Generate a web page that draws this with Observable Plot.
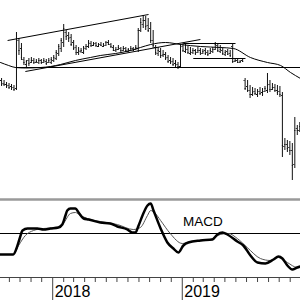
<!DOCTYPE html>
<html><head><meta charset="utf-8">
<script src="https://cdn.jsdelivr.net/npm/d3@7"></script>
<script src="https://cdn.jsdelivr.net/npm/@observablehq/plot@0.6"></script>
<style>
html,body{margin:0;padding:0;background:#fff;}
#chart{width:300px;height:300px;overflow:hidden;}
#chart svg{display:block;}
</style></head>
<body><div id="chart"></div>
<script>
// weekly bars starting date
const firstBar = "2017-08-10";
const highs = [12.2,12.0,11.8,11.7,11.6,11.5,16.8,16.2,15.7,14.3,14.0,14.2,14.3,14.2,14.1,14.2,14.1,14.2,14.1,14.2,
14.3,14.5,15.0,15.6,16.2,17.6,17.0,16.8,16.6,16.0,15.5,15.3,15.2,15.4,15.6,16.0,15.9,15.8,15.8,15.7,
15.8,15.7,15.9,16.0,15.7,15.5,15.3,15.5,15.3,15.4,15.3,15.2,15.4,15.3,15.5,17.2,18.2,18.5,18.4,18.2,
17.8,17.0,15.5,15.3,15.2,15.0,14.8,14.5,14.3,14.2,14.0,13.8,15.6,15.7,15.6,15.4,15.3,15.2,15.1,15.3,
15.2,15.1,15.2,15.0,15.2,15.3,15.8,15.7,15.5,15.2,15.0,15.1,15.0,15.7,14.2,14.1,14.0,14.1,12.2,12.0,
11.5,11.3,11.2,11.1,11.3,11.2,11.4,12.7,12.0,11.7,11.6,11.5,11.4,10.8,6.2,6.0,5.9,5.7,8.3,7.5,7.8];
const lows = [11.4,11.4,11.2,11.1,11.0,10.9,11.0,14.5,14.0,13.5,13.2,13.4,13.7,13.6,13.7,13.6,13.6,13.7,13.5,13.7,
13.6,13.8,14.0,14.4,14.8,15.3,16.0,15.8,15.4,15.0,14.5,14.5,14.7,14.6,15.0,15.2,15.3,15.4,15.3,15.3,
15.4,15.3,15.4,15.5,15.2,14.9,14.8,15.0,14.8,14.9,14.8,14.8,14.9,14.9,15.0,14.8,16.8,17.2,17.0,16.8,
15.7,15.2,14.5,14.4,14.2,14.3,14.0,13.7,13.6,13.4,13.3,13.1,13.3,14.8,14.7,14.6,14.5,14.6,14.5,14.7,
14.5,14.6,14.5,14.4,14.6,14.7,15.0,14.8,14.7,14.5,14.4,14.5,14.3,13.7,13.8,13.7,13.7,13.8,11.0,10.8,
10.2,10.4,10.5,10.3,10.5,10.4,10.8,10.7,10.8,11.0,10.8,10.5,10.3,4.3,5.0,4.8,4.5,2.0,3.2,6.5,6.8];
const opens = [12.0,11.7,11.6,11.5,11.4,11.3,11.2,16.0,15.2,14.1,13.6,14.0,13.8,14.0,13.8,13.8,14.0,13.8,13.9,13.8,
13.8,14.0,14.2,14.7,15.2,15.8,16.8,16.5,16.3,15.8,15.3,14.8,14.9,14.8,15.2,15.4,15.7,15.5,15.7,15.4,
15.6,15.4,15.5,15.8,15.6,15.3,15.0,15.1,15.2,15.0,15.2,14.9,15.0,15.2,15.1,15.2,17.0,17.6,18.0,17.5,
17.2,16.0,15.3,14.7,14.9,14.5,14.6,14.3,14.0,13.9,13.7,13.6,13.4,15.4,14.9,15.1,14.7,14.8,15.0,14.8,
15.0,14.7,15.0,14.8,14.7,14.9,15.1,15.5,14.9,15.0,14.6,14.9,14.7,15.4,13.9,14.0,13.8,14.0,12.0,11.4,
11.0,10.6,10.9,10.6,10.9,10.8,10.9,11.0,11.6,11.1,11.3,11.0,10.9,10.5,5.4,5.6,5.3,5.0,3.6,7.2,7.0];
const closes = [11.6,11.6,11.4,11.3,11.2,11.1,16.2,15.0,14.3,13.8,13.9,13.7,14.0,13.8,13.9,14.0,13.8,14.0,13.7,14.0,
14.1,14.3,14.8,15.4,16.0,17.2,16.4,16.2,15.6,15.2,14.8,15.0,15.0,15.3,15.4,15.8,15.5,15.6,15.5,15.6,
15.5,15.6,15.8,15.6,15.4,15.0,15.1,15.3,15.0,15.2,15.0,15.1,15.2,15.0,15.3,17.0,17.8,18.0,17.4,17.0,
16.0,15.5,14.8,15.0,14.5,14.6,14.2,13.9,13.8,13.6,13.5,13.4,15.3,15.0,15.2,14.8,14.9,15.0,14.7,15.0,
14.8,14.9,14.7,14.6,15.0,15.1,15.6,15.0,15.1,14.7,14.8,14.6,14.5,13.9,14.0,13.8,13.9,13.9,11.2,11.0,
10.6,10.8,10.7,10.9,10.7,10.6,11.2,11.5,11.1,11.3,11.0,10.8,10.6,5.5,5.6,5.2,5.0,3.5,7.0,7.0,7.4];

// moving average
const maDates = ["2017-08-07","2017-08-30","2017-09-18","2017-10-16","2017-11-28","2017-12-26","2018-01-23","2018-03-06",
"2018-04-17","2018-05-15","2018-06-27","2018-08-08","2018-09-05","2018-10-04","2018-11-15","2018-12-27","2019-02-21",
"2019-04-18","2019-05-25","2019-07-12","2019-08-29","2019-10-05","2019-11-02","2019-11-30"];
const maValues = [13.8,13.5,13.3,13.25,13.3,13.4,13.6,14.0,14.3,14.5,14.7,15.0,15.3,15.6,15.8,15.6,15.4,15.3,15.2,14.3,13.8,13.5,12.8,12.2];

// drawn trend lines
const lineStartDates = ["2017-08-27","2017-10-16","2017-09-18","2019-01-04","2019-02-01"];
const lineStartValues = [16.0,12.9,13.3,15.7,14.2];
const lineEndDates = ["2018-09-28","2019-02-21","2019-11-30","2019-05-31","2019-06-28"];
const lineEndValues = [18.6,16.1,13.3,15.7,14.2];

// MACD
const macdDates = ["2017-08-07","2017-09-12","2017-09-21","2017-09-30","2017-10-08","2017-10-22","2017-11-19","2017-12-06",
"2017-12-26","2018-01-17","2018-01-28","2018-02-06","2018-02-11","2018-02-20","2018-03-06","2018-03-15","2018-03-29",
"2018-04-12","2018-05-15","2018-06-12","2018-07-02","2018-07-30","2018-08-13","2018-08-22","2018-08-31","2018-09-11",
"2018-09-25","2018-10-04","2018-10-12","2018-11-01","2018-11-20","2018-12-07","2018-12-21","2019-01-04","2019-01-18",
"2019-02-21","2019-03-27","2019-04-10","2019-04-24","2019-05-08","2019-06-05","2019-06-22","2019-07-12","2019-08-01",
"2019-08-23","2019-09-15","2019-09-29","2019-10-10","2019-10-24","2019-11-07","2019-11-21","2019-11-30"];
const macdValues = [-2.1,-2.1,-1.5,-0.5,0.3,0.5,0.5,0.4,0.5,0.6,0.9,1.8,2.3,2.5,2.5,2.1,1.5,1.4,1.1,1.0,0.7,0.4,0.1,0.1,
0.8,1.8,2.8,3.0,2.3,0.5,-0.9,-1.5,-1.9,-1.2,-0.9,-0.7,-0.6,-0.1,0.1,-0.1,-0.8,-1.2,-2.2,-2.9,-3.0,-2.6,-2.3,-2.5,-3.2,-3.6,-3.4,-3.3];
const signalDates = ["2017-08-07","2017-09-12","2017-09-27","2017-10-16","2017-11-08","2017-12-06","2018-01-17","2018-01-31",
"2018-02-20","2018-03-06","2018-03-20","2018-04-09","2018-05-15","2018-07-02","2018-08-16","2018-09-05","2018-09-25",
"2018-10-04","2018-10-17","2018-11-01","2018-11-28","2019-01-01","2019-02-01","2019-03-22","2019-04-18","2019-05-11",
"2019-06-05","2019-07-03","2019-08-09","2019-09-06","2019-09-29","2019-10-24","2019-11-21","2019-11-30"];
const signalValues = [-2.1,-2.1,-1.2,-0.2,0.3,0.5,0.6,1.0,2.0,2.1,1.8,1.5,1.2,0.9,0.4,0.6,1.8,2.3,2.0,1.3,0.0,-1.0,-0.8,
-0.6,-0.1,0.0,-0.5,-1.4,-2.5,-2.7,-2.4,-2.9,-3.4,-3.3];

const yearLabels = ["2018","2019"];
const macdLabel = "MACD";
const macdLabelDate = "2019-01-03";

const D = s => new Date(s);
const xDomain = [D("2017-08-07"), D("2019-11-30")];

const bars = highs.map((h, i) => ({
  date: d3.utcDay.offset(D(firstBar), 7 * i), high: h, low: lows[i], open: opens[i], close: closes[i]
}));
const ma = maDates.map((d, i) => ({date: D(d), v: maValues[i]}));
const tlines = lineStartDates.map((d, i) => ({x1: D(d), y1: lineStartValues[i], x2: D(lineEndDates[i]), y2: lineEndValues[i]}));
const macd = macdDates.map((d, i) => ({date: D(d), v: macdValues[i]}));
const signal = signalDates.map((d, i) => ({date: D(d), v: signalValues[i]}));
const years = yearLabels.map(y => ({date: D(y + "-01-01"), label: y}));
const months = d3.utcMonth.range(xDomain[0], xDomain[1]).filter(d => d.getUTCMonth() !== 0);

const price = Plot.plot({
  width: 300, height: 198, margin: 0,
  x: {type: "utc", domain: xDomain, axis: null},
  y: {domain: [0.2, 20], axis: null},
  marks: [
    Plot.ruleX(bars, {x: "date", y1: "low", y2: "high", stroke: "#111", strokeWidth: 1}),
    Plot.ruleY(bars, {x1: d => d3.utcDay.offset(d.date, -3), x2: "date", y: "open", stroke: "#111"}),
    Plot.ruleY(bars, {x1: "date", x2: d => d3.utcDay.offset(d.date, 3), y: "close", stroke: "#111"}),
    Plot.line(ma, {x: "date", y: "v", curve: "monotone-x", stroke: "#000", strokeWidth: 1}),
    Plot.link(tlines, {x1: "x1", y1: "y1", x2: "x2", y2: "y2", stroke: "#000", strokeWidth: 1})
  ]
});

const macdPlot = Plot.plot({
  width: 300, height: 102, margin: 0,
  x: {type: "utc", domain: xDomain, axis: null},
  y: {domain: [-6.7, 3.5], axis: null},
  style: {fontFamily: "'Liberation Sans', Arial, sans-serif"},
  marks: [
    Plot.ruleY([3.4], {stroke: "#9a9a9a", strokeWidth: 2.5}),
    Plot.ruleY([0], {stroke: "#000", strokeWidth: 1}),
    Plot.line(signal, {x: "date", y: "v", curve: "monotone-x", stroke: "#555", strokeWidth: 1}),
    Plot.line(macd, {x: "date", y: "v", curve: "monotone-x", stroke: "#000", strokeWidth: 2.5}),
    Plot.text([macdLabel], {x: D(macdLabelDate), y: 0.73, text: d => d, textAnchor: "start", lineAnchor: "bottom", fontSize: 13.5, fill: "#000"}),
    Plot.ruleY([-4.4], {stroke: "#444", strokeWidth: 1}),
    Plot.ruleX(months, {x: d => d, y1: -4.4, y2: -4.9, stroke: "#444"}),
    Plot.ruleX(years, {x: "date", y1: -4.4, y2: -6.7, stroke: "#444"}),
    Plot.text(years, {x: "date", y: -6.3, text: "label", textAnchor: "start", lineAnchor: "bottom", dx: 2, fontSize: 16, fill: "#000"})
  ]
});

const el = document.getElementById("chart");
el.appendChild(price);
el.appendChild(macdPlot);
</script>
</body></html>
